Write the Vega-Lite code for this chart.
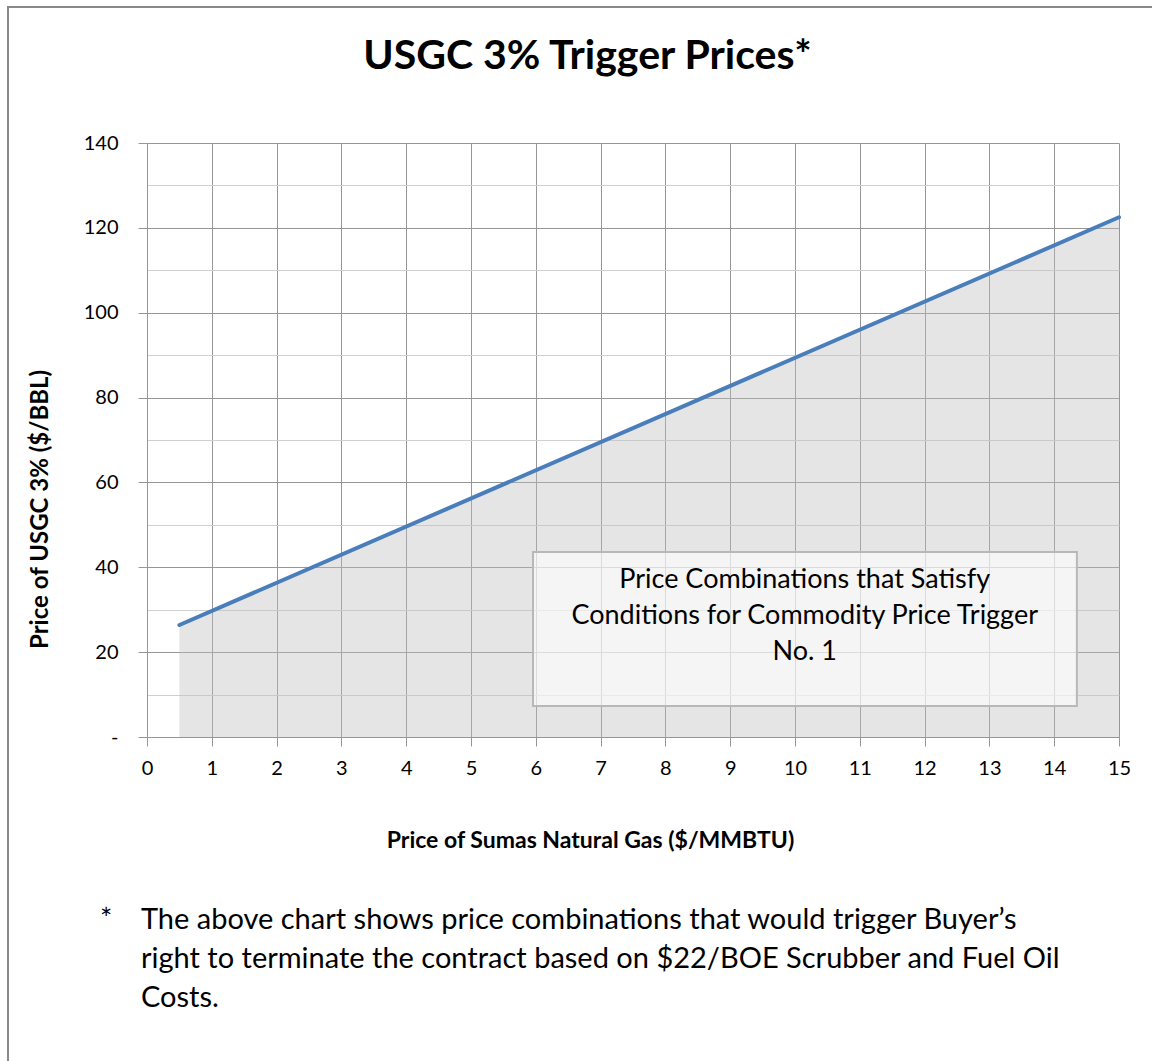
{
  "$schema": "https://vega.github.io/schema/vega-lite/v6.json",
  "width": 972,
  "height": 594,
  "autosize": {"type": "none"},
  "padding": {"left": 147, "top": 143, "right": 33, "bottom": 324},
  "background": "white",
  "config": {"view": {"stroke": null}, "font": "Lato"},
  "datasets": {
    "series": [{"gas": 0.5, "usgc": 26.4}, {"gas": 15, "usgc": 122.5}],
    "frame": [{"gas": -2.145, "gas2": 20, "usgc": 172.05, "usgc2": -100}],
    "heading": [{"gas": 6.798, "usgc": 157.4, "label": "USGC 3% Trigger Prices*"}],
    "box": [{"gas": 5.957, "gas2": 14.35, "usgc": 43.6, "usgc2": 7.31}],
    "boxtext": [
      {"gas": 10.15, "usgc": 37.0, "label": "Price Combinations that Satisfy"},
      {"gas": 10.15, "usgc": 28.5, "label": "Conditions for Commodity Price Trigger"},
      {"gas": 10.15, "usgc": 20.0, "label": "No. 1"}
    ],
    "note": [
      {"gas": -0.725, "usgc": -45.25, "label": "*"},
      {"gas": -0.093, "usgc": -45.25, "label": "The above chart shows price combinations that would trigger Buyer’s"},
      {"gas": -0.093, "usgc": -54.44, "label": "right to terminate the contract based on $22/BOE Scrubber and Fuel Oil"},
      {"gas": -0.093, "usgc": -63.63, "label": "Costs."}
    ]
  },
  "layer": [
    {
      "data": {"name": "series"},
      "mark": {"type": "area", "color": "#bfbfbf", "opacity": 0.4},
      "encoding": {
        "x": {
          "field": "gas", "type": "quantitative",
          "scale": {"domain": [0, 15], "nice": false, "zero": false},
          "axis": {
            "title": "Price of Sumas Natural Gas ($/MMBTU)",
            "titleFont": "Lato", "titleFontSize": 23, "titleFontWeight": "bold", "titleColor": "black",
            "titleX": 443, "titleY": 110, "titleBaseline": "alphabetic", "titleAlign": "center", "titleAnchor": null,
            "values": [0, 0.5, 1, 1.5, 2, 2.5, 3, 3.5, 4, 4.5, 5, 5.5, 6, 6.5, 7, 7.5, 8, 8.5, 9, 9.5, 10, 10.5, 11, 11.5, 12, 12.5, 13, 13.5, 14, 14.5, 15],
            "format": "d",
            "labelExpr": "datum.value % 1 === 0 ? datum.label : ''",
            "labelFont": "Lato", "labelFontSize": 20, "labelColor": "black", "labelPadding": 12,
            "labelFlush": false, "labelOverlap": false,
            "grid": true,
            "gridColor": {"condition": {"test": "datum.value % 1 === 0", "value": "#969696"}, "value": "#d0d0d0"},
            "gridWidth": 1,
            "tickSize": 9, "tickColor": "#969696",
            "tickOpacity": {"condition": {"test": "datum.value % 1 === 0", "value": 1}, "value": 0},
            "domainColor": "#969696", "domainWidth": 1
          }
        },
        "y": {
          "field": "usgc", "type": "quantitative",
          "scale": {"domain": [0, 140], "nice": false},
          "axis": {
            "title": "Price of USGC 3% ($/BBL)",
            "titleFont": "Lato", "titleFontSize": 24, "titleFontWeight": "bold", "titleColor": "black",
            "titleX": -107, "titleY": 366, "titleBaseline": "middle", "titleAlign": "center", "titleAngle": 270, "titleAnchor": null,
            "values": [0, 10, 20, 30, 40, 50, 60, 70, 80, 90, 100, 110, 120, 130, 140],
            "format": "d",
            "labelExpr": "datum.value === 0 ? '-' : (datum.value % 20 === 0 ? datum.label : '')",
            "labelFont": "Lato", "labelFontSize": 20, "labelColor": "black", "labelPadding": 20,
            "labelFlush": false, "labelOverlap": false,
            "grid": true,
            "gridColor": {"condition": {"test": "datum.value % 20 === 0", "value": "#969696"}, "value": "#d0d0d0"},
            "gridWidth": 1,
            "tickSize": 9, "tickColor": "#969696",
            "tickOpacity": {"condition": {"test": "datum.value % 20 === 0", "value": 1}, "value": 0},
            "domainColor": "#969696", "domainWidth": 1
          }
        }
      }
    },
    {
      "data": {"name": "series"},
      "mark": {"type": "line", "color": "#4a7ebb", "strokeWidth": 4, "strokeCap": "round"},
      "encoding": {
        "x": {"field": "gas", "type": "quantitative"},
        "y": {"field": "usgc", "type": "quantitative"}
      }
    },
    {
      "data": {"name": "box"},
      "mark": {"type": "rect", "fill": "white", "fillOpacity": 0.6, "stroke": "#b8b8b8", "strokeWidth": 2},
      "encoding": {
        "x": {"field": "gas", "type": "quantitative"},
        "x2": {"field": "gas2"},
        "y": {"field": "usgc", "type": "quantitative"},
        "y2": {"field": "usgc2"}
      }
    },
    {
      "data": {"name": "boxtext"},
      "mark": {"type": "text", "font": "Lato", "fontSize": 27, "color": "black", "align": "center", "baseline": "middle"},
      "encoding": {
        "x": {"field": "gas", "type": "quantitative"},
        "y": {"field": "usgc", "type": "quantitative"},
        "text": {"field": "label"}
      }
    },
    {
      "data": {"name": "note"},
      "mark": {"type": "text", "font": "Lato", "fontSize": 29, "color": "black", "align": "left", "baseline": "alphabetic"},
      "encoding": {
        "x": {"field": "gas", "type": "quantitative"},
        "y": {"field": "usgc", "type": "quantitative"},
        "text": {"field": "label"}
      }
    },
    {
      "data": {"name": "heading"},
      "mark": {"type": "text", "font": "Lato", "fontSize": 41, "fontWeight": "bold", "color": "black", "align": "center", "baseline": "alphabetic"},
      "encoding": {
        "x": {"field": "gas", "type": "quantitative"},
        "y": {"field": "usgc", "type": "quantitative"},
        "text": {"field": "label"}
      }
    },
    {
      "data": {"name": "frame"},
      "mark": {"type": "rect", "fillOpacity": 0, "stroke": "#888888", "strokeWidth": 2},
      "encoding": {
        "x": {"field": "gas", "type": "quantitative"},
        "x2": {"field": "gas2"},
        "y": {"field": "usgc", "type": "quantitative"},
        "y2": {"field": "usgc2"}
      }
    }
  ]
}
